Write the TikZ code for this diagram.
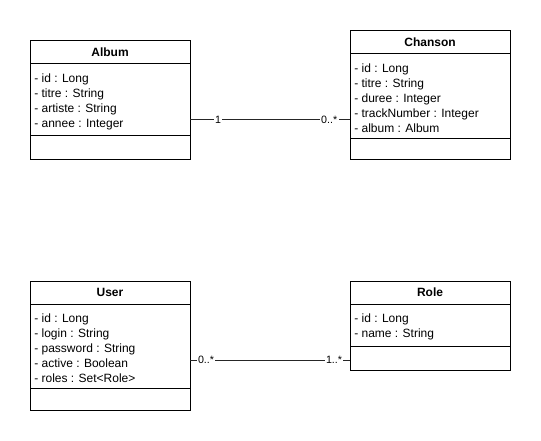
\documentclass[tikz,border=0pt]{standalone}
\usepackage{fontspec}
\setmainfont{Liberation Sans}
\begin{document}
\begin{tikzpicture}[x=0.75pt,y=-0.75pt,
  box/.style={draw=black,line width=0.75pt,anchor=north west,minimum width=120pt,inner sep=0pt,outer sep=0pt},
  hdr/.style={box,minimum height=17.25pt,font=\fontsize{9}{11}\selectfont\bfseries},
  attrs/.style={anchor=north west,align=left,inner sep=0pt,font=\fontsize{9}{11.25}\selectfont},
  conn/.style={draw=black!85,line width=0.75pt},
  mult/.style={fill=white,inner sep=1pt,font=\fontsize{8}{9}\selectfont}]
\useasboundingbox (0,0) rectangle (541,441);
% Album
\node[hdr] (albumH) at (30,41) {Album};
\node[box,minimum height=54pt] (albumA) at (30,64) {};
\node[box,minimum height=18pt] (albumM) at (30,136) {};
\node[attrs] (albumT) at (34,73.5) {- id : Long\\- titre : String\\- artiste : String\\- annee : Integer};
% Chanson
\node[hdr] (chansonH) at (350,31) {Chanson};
\node[box,minimum height=63.75pt] (chansonA) at (350,54) {};
\node[box,minimum height=15.75pt] (chansonM) at (350,139) {};
\node[attrs] (chansonT) at (354,63.5) {- id : Long\\- titre : String\\- duree : Integer\\- trackNumber : Integer\\- album : Album};
% User
\node[hdr] (userH) at (30,281) {User};
\node[box,minimum height=63pt] (userA) at (30,304) {};
\node[box,minimum height=16.5pt] (userM) at (30,388) {};
\node[attrs] (userT) at (34,313.5) {- id : Long\\- login : String\\- password : String\\- active : Boolean\\- roles : Set<Role>};
% Role
\node[hdr] (roleH) at (350,281) {Role};
\node[box,minimum height=31.5pt] (roleA) at (350,304) {};
\node[box,minimum height=18pt] (roleM) at (350,346) {};
\node[attrs] (roleT) at (354,313.5) {- id : Long\\- name : String};
% connectors
\coordinate (yAC) at (0,120);
\coordinate (yUR) at (0,360);
\draw[conn] (albumA.east |- yAC) -- node[mult,pos=0.175] {1} node[mult,pos=0.87] {0..*} (chansonA.west |- yAC);
\draw[conn] (userA.east |- yUR) -- node[mult,pos=0.1] {0..*} node[mult,pos=0.9] {1..*} (roleM.west |- yUR);
\end{tikzpicture}
\end{document}
